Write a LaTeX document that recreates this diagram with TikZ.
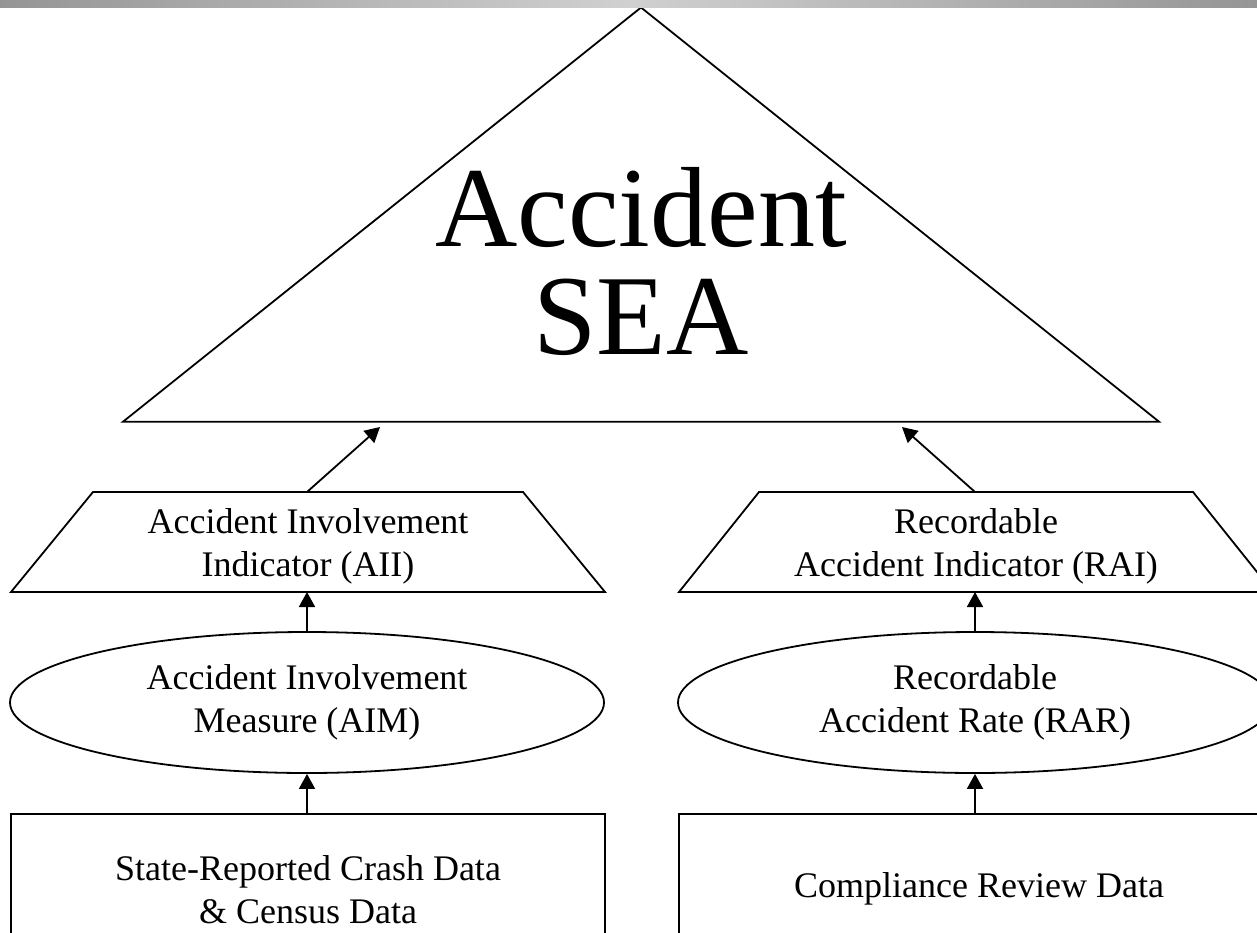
\documentclass[tikz,border=0pt]{standalone}
\usepackage{fontspec}
\setmainfont{Liberation Serif}
\usetikzlibrary{arrows.meta,shapes.geometric}
\definecolor{bardark}{HTML}{959595}
\definecolor{barlight}{HTML}{D0D0D0}
\begin{document}
\begin{tikzpicture}[x=1pt,y=-1pt,
  outline/.style={draw=black,line width=1.8pt,line join=miter},
  link/.style={draw=black,line width=1.8pt,-{Triangle[length=15pt,width=16pt]}},
  txt/.style={font=\fontsize{36}{43}\selectfont,align=center,inner sep=0pt},
  bigtxt/.style={font=\fontsize{114}{108}\selectfont,align=center,inner sep=0pt},
  oval/.style={outline,ellipse,txt,minimum width=594pt,minimum height=141pt},
  databox/.style={outline,rectangle,txt},
]
\useasboundingbox (0,0) rectangle (1257,933);
\clip (0,0) rectangle (1257,933);

% top triangle
\coordinate (apex) at (641,7.5);
\coordinate (baseL) at (123,421.7);
\coordinate (baseR) at (1159,421.7);
\draw[outline] (apex) -- (baseL) -- (baseR) -- cycle;
\node[bigtxt] (sea) at (641,262) {Accident\\SEA};
\coordinate (seaInL) at (380,427);
\coordinate (seaInR) at (902,427);

% left column
\coordinate (aiiTL) at (93,492);
\coordinate (aiiTR) at (523,492);
\coordinate (aiiBR) at (605,592);
\coordinate (aiiBL) at (11,592);
\coordinate (aiiTop) at (307,492);
\coordinate (aiiBot) at (307,592);
\draw[outline] (aiiBL) -- (aiiTL) -- (aiiTR) -- (aiiBR) -- cycle;
\node[txt] (aii) at (308,546) {Accident Involvement\\Indicator (AII)};
\node[oval] (aim) at (307,702.5) {Accident Involvement\\Measure (AIM)};
\node[databox,minimum width=594pt,minimum height=152pt] (crash) at (308,890)
  {State-Reported Crash Data\\\& Census Data};

% right column
\coordinate (raiTL) at (759,492);
\coordinate (raiTR) at (1193,492);
\coordinate (raiBR) at (1273,592);
\coordinate (raiBL) at (679,592);
\coordinate (raiTop) at (975,492);
\coordinate (raiBot) at (975,592);
\draw[outline] (raiBL) -- (raiTL) -- (raiTR) -- (raiBR) -- cycle;
\node[txt] (rai) at (976,546) {Recordable\\Accident Indicator (RAI)};
\node[oval] (rar) at (975,702.5) {Recordable\\Accident Rate (RAR)};
\node[databox,minimum width=600pt,minimum height=149pt] (crd) at (979,888.5)
  {Compliance Review Data};

% connectors
\draw[link] (aiiTop) -- (seaInL);
\draw[link] (raiTop) -- (seaInR);
\draw[link] (aim.north) -- (aiiBot);
\draw[link] (crash.north -| aim.south) -- (aim.south);
\draw[link] (rar.north) -- (raiBot);
\draw[link] (crd.north -| rar.south) -- (rar.south);

% header band
\shade[left color=bardark,right color=bardark,middle color=barlight]
  (0,0) rectangle (1257,7.5);
\end{tikzpicture}
\end{document}
